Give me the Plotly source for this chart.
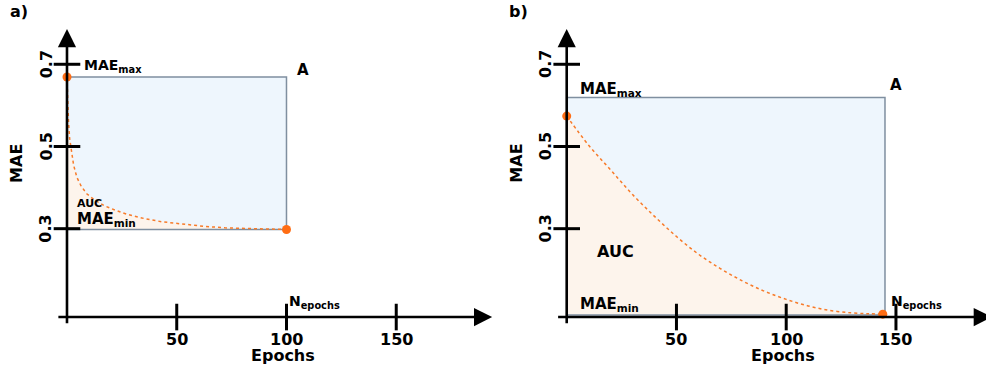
import plotly.graph_objects as go

# ---------------- data ----------------
panel_labels = ["a)", "b)"]

epochs_a = [0, 0.3, 0.7, 1.2, 2.0, 3.0, 4.5, 6.5, 9, 12.5, 17, 22, 28, 35, 43, 52, 62, 72, 82, 91, 100]
mae_a = [0.669, 0.61, 0.56, 0.52, 0.485, 0.455, 0.425, 0.403, 0.385, 0.370, 0.356, 0.345,
         0.334, 0.325, 0.317, 0.311, 0.306, 0.302, 0.300, 0.299, 0.298]
n_epochs_a = 100
mae_max_a = 0.669
mae_min_a = 0.298

epochs_b = [0, 10, 20, 30, 40, 50, 60, 70, 80, 90, 100, 110, 120, 130, 138, 144]
mae_b = [0.574, 0.503, 0.443, 0.383, 0.330, 0.281, 0.238, 0.203, 0.173, 0.148,
         0.128, 0.112, 0.101, 0.095, 0.093, 0.092]
n_epochs_b = 145
mae_max_b = 0.619
mae_min_b = 0.090

x_ticks = [50, 100, 150]
x_tick_labels = ["50", "100", "150"]
y_ticks = [0.3, 0.5, 0.7]
y_tick_labels = ["0.3", "0.5", "0.7"]

x_title = "Epochs"
y_title = "MAE"

# ---------------- style ----------------
BLUE_FILL = "#eef6fd"
PEACH_FILL = "#fdf4ec"
EDGE = "#7f8fa0"
CURVE = "#f77b2a"
DOT = "#ff6d14"
FAM = "DejaVu Sans"


def bold(size):
    return dict(family=FAM, size=size, color="black", weight="bold")


AX_LEVEL = 0.085          # height at which the epoch axis crosses
Y_AX_LOW, Y_AX_TIP = 0.066, 0.786
X_AX_LOW, X_AX_TIP = -4.6, 193.7

fig = go.Figure()
annotations = []


def panel(xr, yr, ex, ey, n_ep, mmax, mmin, shape, txt):
    # blue rectangle (area A)
    fig.add_trace(go.Scatter(x=[0, n_ep, n_ep, 0, 0], y=[mmin, mmin, mmax, mmax, mmin],
                             mode="lines", fill="toself", fillcolor=BLUE_FILL,
                             line=dict(width=0), xaxis=xr, yaxis=yr, hoverinfo="skip"))
    # base for AUC fill
    fig.add_trace(go.Scatter(x=[0, n_ep], y=[mmin, mmin], mode="lines",
                             line=dict(width=0), xaxis=xr, yaxis=yr, hoverinfo="skip"))
    fig.add_trace(go.Scatter(x=ex, y=ey, mode="lines", fill="tonexty", fillcolor=PEACH_FILL,
                             line=dict(width=0, shape=shape), xaxis=xr, yaxis=yr, hoverinfo="skip"))
    # rectangle outline
    fig.add_trace(go.Scatter(x=[0, n_ep, n_ep, 0, 0], y=[mmin, mmin, mmax, mmax, mmin],
                             mode="lines", line=dict(color=EDGE, width=1.5),
                             xaxis=xr, yaxis=yr, hoverinfo="skip"))
    # MAE curve
    fig.add_trace(go.Scatter(x=ex, y=ey, mode="lines",
                             line=dict(color=CURVE, width=1.5, dash="dot", shape=shape),
                             xaxis=xr, yaxis=yr, hoverinfo="skip"))
    # start / end points
    fig.add_trace(go.Scatter(x=[ex[0], ex[-1]], y=[ey[0], ey[-1]], mode="markers",
                             marker=dict(color=DOT, size=9), xaxis=xr, yaxis=yr,
                             hoverinfo="skip", cliponaxis=False))
    # tick marks crossing the axes
    fig.add_trace(go.Scatter(x=x_ticks, y=[AX_LEVEL] * len(x_ticks), mode="markers",
                             marker=dict(symbol="line-ns-open", size=19, color="black",
                                         line=dict(color="black", width=3)),
                             xaxis=xr, yaxis=yr, hoverinfo="skip", cliponaxis=False))
    fig.add_trace(go.Scatter(x=[0] * len(y_ticks), y=y_ticks, mode="markers",
                             marker=dict(symbol="line-ew-open", size=19, color="black",
                                         line=dict(color="black", width=3)),
                             xaxis=xr, yaxis=yr, hoverinfo="skip", cliponaxis=False))
    # axes with arrows
    for (x0, y0, x1, y1) in [(X_AX_LOW, AX_LEVEL, X_AX_TIP, AX_LEVEL), (0, Y_AX_LOW, 0, Y_AX_TIP)]:
        annotations.append(dict(x=x1, y=y1, ax=x0, ay=y0, xref=xr, yref=yr, axref=xr, ayref=yr,
                                text="", showarrow=True, arrowhead=2, arrowsize=1.4,
                                arrowwidth=2.6, arrowcolor="black"))
    # tick labels
    for v, t in zip(x_ticks, x_tick_labels):
        annotations.append(dict(x=v, y=AX_LEVEL, xref=xr, yref=yr, text=t, showarrow=False,
                                yshift=-22, font=bold(16)))
    for v, t in zip(y_ticks, y_tick_labels):
        annotations.append(dict(x=0, y=v, xref=xr, yref=yr, text=t, showarrow=False,
                                xshift=-21, textangle=-90, font=bold(16)))
    # axis titles
    annotations.append(dict(x=100, y=AX_LEVEL, xref=xr, yref=yr, text=x_title, showarrow=False,
                            xshift=-3, yshift=-38, font=bold(16)))
    annotations.append(dict(x=0, y=0.46, xref=xr, yref=yr, text=y_title, showarrow=False,
                            xshift=-50, textangle=-90, font=bold(16)))
    # text labels
    for (ax_x, ax_y, text, size, dx, dy, anchor) in txt:
        annotations.append(dict(x=ax_x, y=ax_y, xref=xr, yref=yr, text=text, showarrow=False,
                                xshift=dx, yshift=dy, xanchor=anchor, font=bold(size)))


panel("x", "y", epochs_a, mae_a, n_epochs_a, mae_max_a, mae_min_a, "linear", [
    (0, mae_max_a, "MAE<sub>max</sub>", 14, 15, 11, "left"),
    (n_epochs_a, mae_max_a, "A", 15, 17, 7, "center"),
    (0, mae_min_a, "AUC", 11, 23, 26, "center"),
    (0, mae_min_a, "MAE<sub>min</sub>", 15, 8, 10, "left"),
    (n_epochs_a, AX_LEVEL, "N<sub>epochs</sub>", 14, 1, 15, "left"),
])
panel("x2", "y2", epochs_b, mae_b, n_epochs_b, mae_max_b, mae_min_b, "spline", [
    (0, mae_max_b, "MAE<sub>max</sub>", 15, 11, 8, "left"),
    (n_epochs_b, mae_max_b, "A", 15, 11, 13, "center"),
    (0, mae_min_b, "AUC", 16, 49, 63, "center"),
    (0, mae_min_b, "MAE<sub>min</sub>", 15, 11, 10, "left"),
    (n_epochs_b, AX_LEVEL, "N<sub>epochs</sub>", 14, 4, 15, "left"),
])

for i, lab in enumerate(panel_labels):
    annotations.append(dict(x=(18.5 + 500 * i) / 986, y=1 - 11.5 / 366, xref="paper", yref="paper",
                            xanchor="center", yanchor="middle",
                            text=lab, showarrow=False, font=bold(16)))

hidden = dict(visible=False, fixedrange=True)
fig.update_layout(
    width=986, height=366,
    margin=dict(l=0, r=0, t=0, b=0, pad=0),
    paper_bgcolor="white", plot_bgcolor="rgba(0,0,0,0)",
    showlegend=False,
    xaxis=dict(domain=[0, 493 / 986], range=[-30.52, 194.08], **hidden),
    yaxis=dict(domain=[0, 1], range=[-0.0341, 0.8564], **hidden),
    xaxis2=dict(domain=[493 / 986, 1], range=[-33.58, 191.02], anchor="y2", **hidden),
    yaxis2=dict(domain=[0, 1], range=[-0.0341, 0.8564], anchor="x2", **hidden),
    annotations=annotations,
)

fig.write_html("out.html", config={"displayModeBar": False},
               post_script="document.body.style.margin='0';document.body.style.overflow='hidden';")
